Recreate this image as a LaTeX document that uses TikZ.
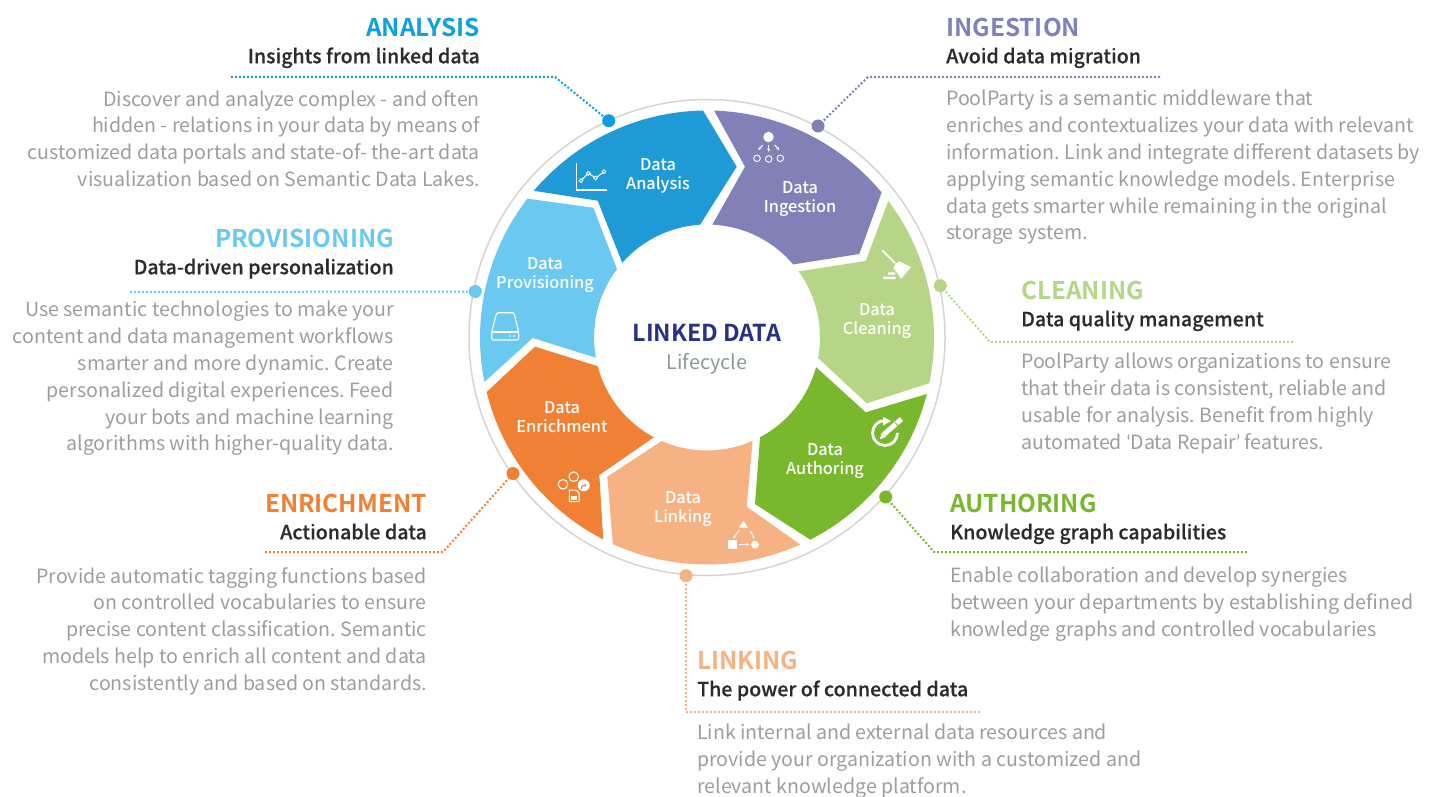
\documentclass[tikz,border=0pt]{standalone}
\usepackage{fontspec}
\setmainfont{Noto Sans CJK SC}
\newfontfamily\fsbold{Noto Sans CJK SC}[UprightFont={* Bold}]
\newfontfamily\fsmed{Noto Sans CJK SC}[UprightFont={* Medium},FakeBold=0.25]
\newfontfamily\fslab{Noto Sans CJK SC}[UprightFont={* Medium}]
\newfontfamily\fsq{Lato}
\usetikzlibrary{arrows.meta,calc}
\definecolor{cAna}{HTML}{1E9BD7}
\definecolor{cIng}{HTML}{8181B8}
\definecolor{cCle}{HTML}{B7D586}
\definecolor{cAut}{HTML}{79B72D}
\definecolor{cLin}{HTML}{F6B283}
\definecolor{cEnr}{HTML}{F08033}
\definecolor{cPro}{HTML}{6BC8F1}
\definecolor{hAna}{HTML}{0E9FE0}
\definecolor{bodygrey}{HTML}{9C9E9E}
\definecolor{subdark}{HTML}{2B2B2B}
\definecolor{navy}{HTML}{2B3087}
\definecolor{lifegrey}{HTML}{8A9A9A}
\tikzset{
  seg/.style={fill=#1,draw=none},
  heading/.style={font=\fsbold\fontsize{24.4}{28}\selectfont,inner sep=0pt,text=#1},
  subhead/.style={font=\fsmed\fontsize{19.6}{22}\selectfont,inner sep=0pt,text=subdark},
  bodyr/.style={font=\fontsize{19.6}{26.8}\selectfont\frenchspacing,inner sep=0pt,text=bodygrey,align=right,anchor=north east,execute at begin node={\rule{0pt}{14.6pt}}},
  bodyl/.style={font=\fontsize{19.6}{26.8}\selectfont\frenchspacing,inner sep=0pt,text=bodygrey,align=left,anchor=north west,execute at begin node={\rule{0pt}{14.6pt}}},
  seglabel/.style={font=\fslab\fontsize{16.3}{19}\selectfont,text=white,align=center,inner sep=0pt},
  dotnode/.style={circle,fill=#1,draw=none,minimum size=13pt,inner sep=0pt},
  leader/.style={draw=#1,line width=2pt,dash pattern=on 2pt off 2pt},
  ico/.style={draw=white,line width=1.1pt,fill=none},
  icof/.style={fill=white,draw=none},
  icoa/.style={draw=white,line width=1pt,-{Stealth[length=3pt,width=3pt]}},
}
\begin{document}
\begin{tikzpicture}[x=1pt,y=-1pt]
\useasboundingbox (0,0) rectangle (1440,797);
\fill[white] (0,0) rectangle (1440,797);
\coordinate (c) at (707,337.5);
% ring
\draw[draw=black!17,line width=1.5pt] (c) circle[radius=238pt];
% segments
\fill[seg=cPro] ($(c)+(191.3:227pt)$) arc[start angle=191.3,end angle=142.3,radius=227pt] -- (593.3,207.7) -- ($(c)+(142.8:113pt)$) arc[start angle=142.8,end angle=190.3,radius=113pt] -- (532.7,338) -- cycle;
\fill[seg=cAna] ($(c)+(139.74:227pt)$) arc[start angle=139.74,end angle=91,radius=227pt] -- (736.7,166.7) -- ($(c)+(93.5:113pt)$) arc[start angle=93.5,end angle=138.6,radius=113pt] -- (597.7,200.7) -- cycle;
\fill[seg=cIng] ($(c)+(88.2:227pt)$) arc[start angle=88.2,end angle=39.7,radius=227pt] -- (859.3,254) -- ($(c)+(40.3:113pt)$) arc[start angle=40.3,end angle=87.3,radius=113pt] -- (745,166.7) -- cycle;
\fill[seg=cCle] ($(c)+(36.98:227pt)$) arc[start angle=36.98,end angle=-11.6,radius=227pt] -- (866.7,403.3) -- ($(c)+(-10.5:113pt)$) arc[start angle=-10.5,end angle=35.8,radius=113pt] -- (865.7,261) -- cycle;
\fill[seg=cAut] ($(c)+(-14.4:227pt)$) arc[start angle=-14.4,end angle=-62.96,radius=227pt] -- (755,504) -- ($(c)+(-62:113pt)$) arc[start angle=-62,end angle=-15.2,radius=113pt] -- (865.7,412.3) -- cycle;
\fill[seg=cLin] ($(c)+(-65.75:227pt)$) arc[start angle=-65.75,end angle=-114.5,radius=227pt] -- (607.3,476.7) -- ($(c)+(-113.6:113pt)$) arc[start angle=-113.6,end angle=-66.2,radius=113pt] -- (746.7,506.7) -- cycle;
\fill[seg=cEnr] ($(c)+(-117.2:227pt)$) arc[start angle=-117.2,end angle=-166.1,radius=227pt] -- (535,346.7) -- ($(c)+(-165.3:113pt)$) arc[start angle=-165.3,end angle=-118,radius=113pt] -- (599.3,475) -- cycle;
% centre
\node[font=\fsbold\fontsize{23.3}{28}\selectfont,text=navy,inner sep=0pt,anchor=base] (ctitle) at (707,341.5) {LINKED DATA};
\node[font=\fontsize{19.8}{26}\selectfont,text=lifegrey,inner sep=0pt,anchor=base] (csub) at (707,369) {Lifecycle};
% segment labels
\node[seglabel] (lAna) at (658,176) {Data\\Analysis};
\node[seglabel] (lIng) at (800,199) {Data\\Ingestion};
\node[seglabel] (lCle) at (877,321.5) {Data\\Cleaning};
\node[seglabel] (lAut) at (825,461.5) {Data\\Authoring};
\node[seglabel] (lLin) at (683,509) {Data\\Linking};
\node[seglabel] (lEnr) at (562,417) {Data\\Enrichment};
\node[seglabel] (lPro) at (545,275) {Data\\Provisioning};
% icons: analysis
\draw[ico] (576.5,163) -- (576.5,190) -- (607,190);
\draw[ico] (581,180.7) -- (588.3,173.3) -- (595.7,178) -- (604,171.7);
\foreach \p in {(581,180.7),(588.3,173.3),(595.7,178),(604,171.7)} \filldraw[draw=white,fill=cAna,line width=0.9pt] \p circle[radius=1.9pt];
% icons: provisioning
\draw[ico,rounded corners=1.5pt] (491.7,332) -- (496.7,312.7) -- (514,312.7) -- (518.7,332) -- (518.7,340) -- (491.7,340) -- cycle;
\draw[ico] (491.7,332) -- (518.7,332);
\fill[white] (510,336) circle[radius=0.9pt] (514,336) circle[radius=0.9pt];
% icons: ingestion
\fill[white] (768.5,137) circle[radius=5.2pt];
\draw[icoa] (762.7,145) -- (758.3,150);
\draw[icoa] (768.7,145) -- (768.7,151.7);
\draw[icoa] (774.7,145) -- (779.3,150);
\draw[ico,line width=0.9pt] (757,158.3) circle[radius=3.3pt] (768.7,159) circle[radius=3.3pt] (780.3,158.3) circle[radius=3.3pt];
% icons: cleaning
\draw[draw=white,line width=2pt] (882.3,250.3) -- (895,263);
\fill[icof] (895.7,263.7) -- (899,261.3) -- (911,267) -- (901,279) -- (897.7,273.7) -- (893.3,268) -- cycle;
\fill[icof] (888,272.3) rectangle (895,274.5) (883.3,276.5) rectangle (895.7,279);
% icons: authoring
\draw[draw=white,line width=2.8pt] (885,420.5) arc[start angle=90,end angle=360,radius=12.5pt];
\fill[white] (883,417) -- (891,421) -- (883,425.5) -- cycle;
\draw[draw=cAut,line width=7.5pt] (881,437) -- (902,418.5);
\draw[draw=white,line width=5pt] (884,434.3) -- (901.5,419);
\draw[draw=cAut,line width=0.8pt] (895,422.5) -- (898.5,426);
\fill[white] (880,439) -- (881.6,432.6) -- (886,437) -- cycle;
% icons: linking
\fill[white] (743.5,521) -- (748,527.7) -- (739,527.7) -- cycle;
\fill[white] (728.3,540.3) rectangle (736.7,548.7);
\fill[white] (755,544.7) circle[radius=4pt];
\draw[icoa] (739.3,530) -- (733.3,538.3);
\draw[icoa] (754.3,538.3) -- (750,530.7);
\draw[icoa] (738.5,544.5) -- (749.5,544.5);
% icons: enrichment
\draw[ico] (573.7,476.7) circle[radius=4.8pt] (563,484.3) circle[radius=4.8pt];
\fill[white] (583.7,485.3) circle[radius=6pt];
\draw[draw=cEnr,line width=1.1pt,-{Stealth[length=3pt,width=3.5pt]}] (581.5,489) arc[start angle=200,end angle=40,radius=2.6pt];
\filldraw[draw=white,fill=cEnr,line width=1pt] (569.3,490) -- (576,490) -- (579.2,493) -- (579.2,501.7) -- (569.3,501.7) -- cycle;
\fill[white] (571.2,496) rectangle (577.3,499.5);
% leader lines
\coordinate (anaA) at (231,77); \coordinate (anaB) at (555,77);
\coordinate (proA) at (130,292);
\coordinate (enrA) at (265,552); \coordinate (enrB) at (443,552);
\coordinate (ingA) at (1160,77); \coordinate (ingB) at (868,77);
\coordinate (cleA) at (1293,342); \coordinate (cleB) at (990,342);
\coordinate (autA) at (1247,552); \coordinate (autB) at (934,552);
\coordinate (linA) at (980,712); \coordinate (linB) at (686,712);
\node[dotnode=hAna] (dAna) at (608.7,120.7) {};
\node[dotnode=cPro] (dPro) at (475.3,291.5) {};
\node[dotnode=cEnr] (dEnr) at (513,473.5) {};
\node[dotnode=cIng] (dIng) at (818,126) {};
\node[dotnode=cCle] (dCle) at (940.3,285.7) {};
\node[dotnode=cAut] (dAut) at (885.7,497) {};
\node[dotnode=cLin] (dLin) at (686,575.7) {};
\draw[leader=hAna] (anaA) -- (anaB) -- (dAna);
\draw[leader=cPro] (proA) -- (dPro);
\draw[leader=cEnr] (enrA) -- (enrB) -- (dEnr);
\draw[leader=cIng] (ingA) -- (ingB) -- (dIng);
\draw[leader=cCle] (cleA) -- (cleB) -- (dCle);
\draw[leader=cAut] (autA) -- (autB) -- (dAut);
\draw[leader=cLin] (linA) -- (linB) -- (dLin);
% ANALYSIS
\node[heading=hAna,anchor=base east] (hA) at (480,37) {ANALYSIS};
\node[subhead,anchor=base east] (sA) at (480,63.3) {Insights from linked data};
\node[bodyr] (bA) at (480,90) {Discover and analyze complex - and often\\hidden - relations in your data by means of\\customized data portals and state-of- the-art data\\visualization based on Semantic Data Lakes.};
% PROVISIONING
\node[heading=cPro,anchor=base east] (hP) at (394,247.5) {PROVISIONING};
\node[subhead,anchor=base east] (sP) at (394,274.3) {Data-driven personalization};
\node[bodyr] (bP) at (394,301) {Use semantic technologies to make your\\content and data management workflows\\smarter and more dynamic. Create\\personalized digital experiences. Feed\\your bots and machine learning\\algorithms with higher-quality data.};
% ENRICHMENT
\node[heading=cEnr,anchor=base east] (hE) at (427,512.5) {ENRICHMENT};
\node[subhead,anchor=base east] (sE) at (427,539.3) {Actionable data};
\node[bodyr] (bE) at (427,567) {Provide automatic tagging functions based\\on controlled vocabularies to ensure\\precise content classification. Semantic\\models help to enrich all content and data\\consistently and based on standards.};
% INGESTION
\node[heading=cIng,anchor=base west] (hI) at (946,37) {INGESTION};
\node[subhead,anchor=base west] (sI) at (946,63.3) {Avoid data migration};
\node[bodyl] (bI) at (946,90) {PoolParty is a semantic middleware that\\enriches and contextualizes your data with relevant\\information. Link and integrate different datasets by\\applying semantic knowledge models. Enterprise\\data gets smarter while remaining in the original\\storage system.};
% CLEANING
\node[heading=cCle,anchor=base west] (hC) at (1021,299.5) {CLEANING};
\node[subhead,anchor=base west] (sC) at (1021,326.3) {Data quality management};
\node[bodyl] (bC) at (1021,353) {PoolParty allows organizations to ensure\\that their data is consistent, reliable and\\usable for analysis. Benefit from highly\\automated {\fsq ‘}Data Repair{\fsq ’} features.};
% AUTHORING
\node[heading=cAut,anchor=base west] (hU) at (950,512.5) {AUTHORING};
\node[subhead,anchor=base west] (sU) at (950,539.3) {Knowledge graph capabilities};
\node[bodyl] (bU) at (950,567) {Enable collaboration and develop synergies\\between your departments by establishing defined\\knowledge graphs and controlled vocabularies};
% LINKING
\node[heading=cLin,anchor=base west] (hL) at (697,669.5) {LINKING};
\node[subhead,anchor=base west] (sL) at (697,696.3) {The power of connected data};
\node[bodyl] (bL) at (697,724) {Link internal and external data resources and\\provide your organization with a customized and\\relevant knowledge platform.};
\end{tikzpicture}
\end{document}
